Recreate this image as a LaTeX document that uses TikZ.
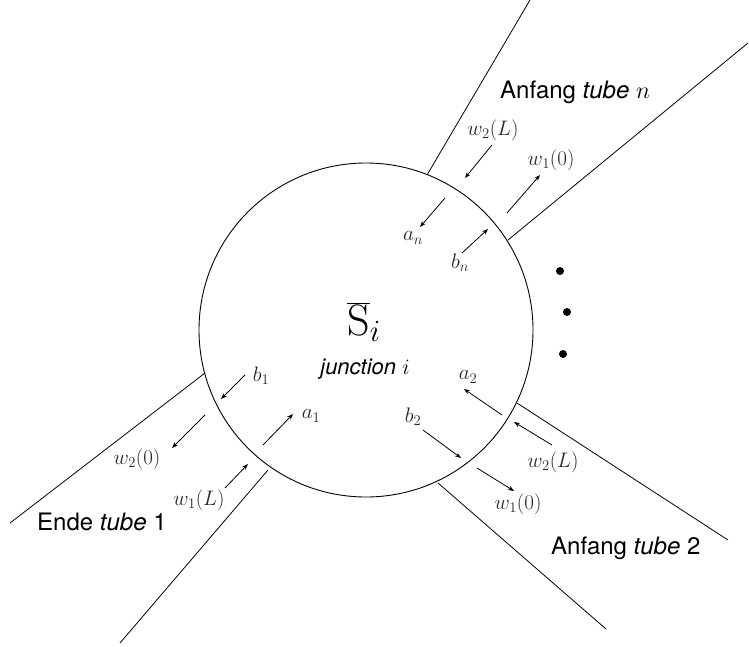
\RequirePackage{fix-cm}
\documentclass[tikz,border=0pt]{standalone}
\usepackage{fontspec}
\setsansfont{TeX Gyre Heros}
\usetikzlibrary{arrows.meta}
\tikzset{
  tubeline/.style={line width=0.8pt},
  flow/.style={line width=0.8pt,-{Stealth[length=6pt,width=4.5pt]}},
  mlabel/.style={text=black!85,font=\fontsize{21}{24}\selectfont,inner sep=0pt},
  tlabel/.style={font=\sffamily\fontsize{24}{27}\selectfont,inner sep=0pt,anchor=west},
  dot/.style={circle,fill=black,inner sep=0pt,minimum size=8pt}
}
\begin{document}
\begin{tikzpicture}[x=1pt,y=-1pt]
\useasboundingbox (0,0) rectangle (749,646);
\node[circle,draw,line width=0.9pt,minimum size=334pt,inner sep=0pt] (J) at (366,330) {};
% tube lines
\coordinate (n1a) at (427,175); \coordinate (n1b) at (530,0);
\coordinate (n2a) at (508,240); \coordinate (n2b) at (748,43);
\coordinate (t1a) at (205,373); \coordinate (t1b) at (10,523);
\coordinate (t1c) at (268,470); \coordinate (t1d) at (120,643);
\coordinate (t2a) at (517,403); \coordinate (t2b) at (728,540);
\coordinate (t2c) at (438,483); \coordinate (t2d) at (606,629);
\draw[tubeline] (n1a) -- (n1b);
\draw[tubeline] (n2a) -- (n2b);
\draw[tubeline] (t1a) -- (t1b);
\draw[tubeline] (t1c) -- (t1d);
\draw[tubeline] (t2a) -- (t2b);
\draw[tubeline] (t2c) -- (t2d);
% center
\node[inner sep=0pt] (S) at (364,322) {\fontsize{44}{48}\selectfont$\overline{\mathrm{S}}_{i}$};
\node[inner sep=0pt] (jn) at (365,369) {\sffamily\itshape\fontsize{22}{25}\selectfont junction \normalfont\fontsize{22}{25}\selectfont$i$};
% tube n
\node[tlabel] (An) at (500,92) {Anfang \textit{tube} $n$};
\coordinate (wLs) at (492,145); \coordinate (wLe) at (465,178);
\draw[flow] (wLs) -- (wLe);
\node[mlabel] (wLn) at (493,130) {$w_2(L)$};
\coordinate (w0s) at (507,213); \coordinate (w0e) at (540,175);
\draw[flow] (w0s) -- (w0e);
\node[mlabel] (w0n) at (551,160) {$w_1(0)$};
\coordinate (ans) at (445,198); \coordinate (ane) at (420,227);
\draw[flow] (ans) -- (ane);
\node[mlabel] (an) at (413,238) {$a_n$};
\coordinate (bns) at (462,253); \coordinate (bne) at (488,229);
\draw[flow] (bns) -- (bne);
\node[mlabel] (bn) at (460,263) {$b_n$};
% tube 1
\node[tlabel] (E1) at (37,522) {Ende \textit{tube} 1};
\coordinate (b1s) at (245,375); \coordinate (b1e) at (221,399);
\draw[flow] (b1s) -- (b1e);
\node[mlabel] (b1) at (261,376) {$b_1$};
\coordinate (w20s) at (205,415); \coordinate (w20e) at (172,448);
\draw[flow] (w20s) -- (w20e);
\node[mlabel] (w20) at (137,459) {$w_2(0)$};
\coordinate (a1s) at (263,445); \coordinate (a1e) at (293,414);
\draw[flow] (a1s) -- (a1e);
\node[mlabel] (a1) at (311,416) {$a_1$};
\coordinate (w1Ls) at (225,488); \coordinate (w1Le) at (248,464);
\draw[flow] (w1Ls) -- (w1Le);
\node[mlabel] (w1L) at (199,500) {$w_1(L)$};
% tube 2
\node[tlabel] (A2) at (551,548) {Anfang \textit{tube} 2};
\coordinate (a2s) at (502,415); \coordinate (a2e) at (464,389);
\draw[flow] (a2s) -- (a2e);
\node[mlabel] (a2) at (468,377) {$a_2$};
\coordinate (w2Ls) at (552,445); \coordinate (w2Le) at (514,422);
\draw[flow] (w2Ls) -- (w2Le);
\node[mlabel] (w2L) at (553,462) {$w_2(L)$};
\coordinate (b2s) at (423,430); \coordinate (b2e) at (461,458);
\draw[flow] (b2s) -- (b2e);
\node[mlabel] (b2) at (413,417) {$b_2$};
\coordinate (w10s) at (477,468); \coordinate (w10e) at (514,491);
\draw[flow] (w10s) -- (w10e);
\node[mlabel] (w10) at (518,504) {$w_1(0)$};
% dots
\node[dot] (d1) at (560,271) {};
\node[dot] (d2) at (567,312) {};
\node[dot] (d3) at (563,354) {};
\end{tikzpicture}
\end{document}
